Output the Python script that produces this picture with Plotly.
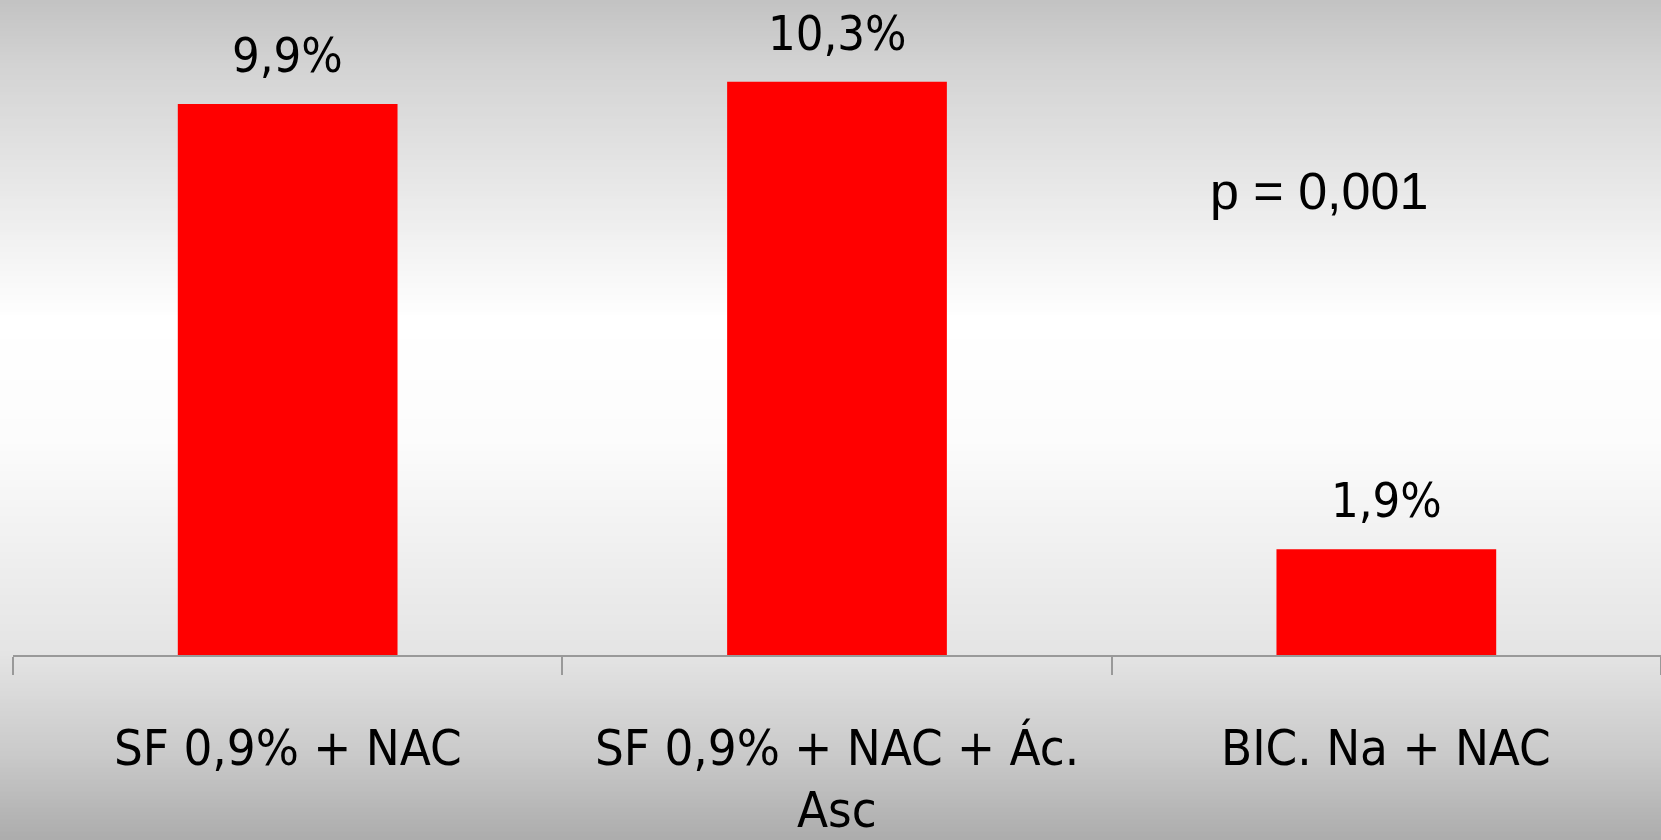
import plotly.graph_objects as go

# Data
categories = ["SF 0,9% + NAC", "SF 0,9% + NAC + Ác. Asc", "BIC. Na + NAC"]
label_lines = [["SF 0,9% + NAC"], ["SF 0,9% + NAC + Ác.", "Asc"], ["BIC. Na + NAC"]]
values = [9.9, 10.3, 1.9]
value_labels = ["9,9%", "10,3%", "1,9%"]
p_text = "p = 0,001"

W, H = 1661, 840
M_L, M_R, M_T, M_B = 13, 0, 0, 185
plot_h = H - M_T - M_B

FONT = "DejaVu Sans Condensed"

fig = go.Figure()
fig.add_trace(go.Bar(
    x=list(range(len(categories))),
    y=values,
    width=0.4,
    marker=dict(color="#ff0000", line=dict(width=0)),
    hoverinfo="skip",
    showlegend=False,
))

# Vertical grey-white-grey background gradient drawn as thin bands
stops = [(0, (194, 194, 194)), (60, (210, 210, 210)), (320, (255, 255, 255)),
         (440, (252, 252, 252)), (655, (228, 228, 228)), (760, (200, 200, 200)),
         (840, (172, 172, 172))]


def color_at(py):
    for (a, ca), (b, cb) in zip(stops[:-1], stops[1:]):
        if a <= py <= b:
            t = (py - a) / (b - a)
            return tuple(round(ca[i] + (cb[i] - ca[i]) * t) for i in range(3))
    return stops[-1][1]


shapes = []
band = 4
for top in range(0, H, band):
    c = color_at(top + band / 2)
    y0 = 1 - (top + band + 0.5) / plot_h
    y1 = 1 - (top - 0.5) / plot_h
    shapes.append(dict(
        type="rect", xref="paper", yref="paper",
        x0=-M_L / (W - M_L) - 0.01, x1=1.01, y0=y0, y1=y1,
        fillcolor="rgb(%d,%d,%d)" % c, line=dict(width=0), layer="below",
    ))

annotations = []
for i, (v, lab) in enumerate(zip(values, value_labels)):
    annotations.append(dict(
        x=i, y=v, xref="x", yref="y", text=lab, showarrow=False,
        yanchor="middle", yshift=49,
        font=dict(family=FONT, size=48.5, color="#000000"),
    ))

# Category labels, one annotation per text line
line_shifts = [-92, -154]
for i, lines in enumerate(label_lines):
    for j, line in enumerate(lines):
        annotations.append(dict(
            x=i, y=0, xref="x", yref="paper", text=line, showarrow=False,
            yanchor="middle", yshift=line_shifts[j],
            font=dict(family=FONT, size=50.5, color="#000000"),
        ))

annotations.append(dict(
    x=(1319 - M_L) / (W - M_L - M_R), y=1 - 191 / plot_h,
    xref="paper", yref="paper", text=p_text, showarrow=False,
    xanchor="center", yanchor="middle",
    font=dict(family="Liberation Sans", size=52, color="#000000"),
))

fig.update_layout(
    width=W, height=H,
    margin=dict(l=M_L, r=M_R, t=M_T, b=M_B, pad=0),
    paper_bgcolor="#e8e8e8",
    plot_bgcolor="rgba(0,0,0,0)",
    shapes=shapes,
    annotations=annotations,
    bargap=0.6,
)
fig.update_xaxes(
    range=[-0.5, 2.5], tickvals=[-0.5, 0.5, 1.5, 2.5], showticklabels=False,
    ticks="outside", ticklen=18, tickwidth=1.5, tickcolor="#999999",
    showline=True, linecolor="#999999", linewidth=1.5,
    showgrid=False, zeroline=False, fixedrange=True,
)
fig.update_yaxes(
    range=[0, plot_h / 55.65], visible=False, showgrid=False, zeroline=False,
    fixedrange=True,
)

fig.write_html("out.html", config=dict(displayModeBar=False))
